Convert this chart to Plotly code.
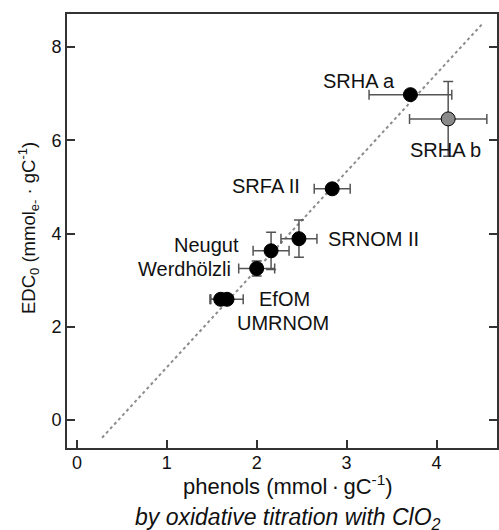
import plotly.graph_objects as go

# ---- data ----
names = ["SRHA a", "SRHA b", "SRFA II", "SRNOM II", "Neugut", "Werdhölzli", "EfOM", "UMRNOM"]
phenols = [3.71, 4.13, 2.84, 2.47, 2.16, 2.00, 1.67, 1.60]
phenols_err = [0.46, 0.43, 0.20, 0.20, 0.20, 0.20, 0.18, 0.12]
edc = [6.98, 6.46, 4.96, 3.89, 3.63, 3.25, 2.59, 2.59]
edc_err = [0.10, 0.80, 0.10, 0.40, 0.40, 0.16, 0.10, 0.10]
fill = ["black", "#8a8a8a", "black", "black", "black", "black", "black", "black"]

fit_x = [0.28, 4.52]
fit_y = [-0.38, 8.52]

x_ticks = [0, 1, 2, 3, 4]
y_ticks = [0, 2, 4, 6, 8]

# label placement (pixel offsets from the point)
lab_anchor = ["center", "center", "right", "left", "right", "right", "left", "center"]
lab_dx = [-51, -3, -30, 27, -30, -24, 30, 62]
lab_dy = [14, -31, 3, 0, 6, 0, 0, -24]

FONT = "Liberation Sans, Arial, sans-serif"
TXT = "#111111"

fig = go.Figure()
fig.add_trace(go.Scatter(
    x=fit_x, y=fit_y, mode="lines",
    line=dict(color="#8c8c8c", width=2, dash="dot"),
    hoverinfo="skip", showlegend=False))

fig.add_trace(go.Scatter(
    x=phenols, y=edc, mode="markers",
    marker=dict(size=14, color=fill, line=dict(color="black", width=1)),
    error_x=dict(type="data", array=phenols_err, color="#555555", thickness=1.5, width=5),
    error_y=dict(type="data", array=edc_err, color="#555555", thickness=1.5, width=5),
    showlegend=False))

for n, x, y, a, dx, dy in zip(names, phenols, edc, lab_anchor, lab_dx, lab_dy):
    fig.add_annotation(x=x, y=y, text=n, showarrow=False, xanchor=a, yanchor="middle",
                       xshift=dx, yshift=dy, font=dict(size=20, color=TXT, family=FONT))

# axis titles
fig.add_annotation(x=0.5, y=0, xref="paper", yref="paper", yshift=-37, xshift=6,
                   text="phenols (mmol\u2009·\u2009gC<sup>-1</sup>)", showarrow=False,
                   xanchor="center", yanchor="middle",
                   font=dict(size=22, color=TXT, family=FONT))
fig.add_annotation(x=0.5, y=0, xref="paper", yref="paper", yshift=-70, xshift=6,
                   text="<i>by oxidative titration with ClO<sub>2</sub></i>", showarrow=False,
                   xanchor="center", yanchor="middle",
                   font=dict(size=23, color=TXT, family=FONT))
fig.add_annotation(x=0, y=0.5, xref="paper", yref="paper", xshift=-39, yshift=3, textangle=-90,
                   text="EDC<sub>0</sub> (mmol<sub>e-</sub> · gC<sup>-1</sup>)", showarrow=False,
                   xanchor="center", yanchor="middle",
                   font=dict(size=18.5, color=TXT, family=FONT))

fig.update_layout(
    width=499, height=530,
    margin=dict(l=67, r=0, t=14, b=82),
    paper_bgcolor="white", plot_bgcolor="white",
    font=dict(family=FONT, size=18, color=TXT),
    xaxis=dict(range=[-0.11, 4.673], tickvals=x_ticks, ticks="inside", ticklen=8,
               tickwidth=1.5, tickcolor="#333", showline=True, linecolor="#333", linewidth=2,
               mirror=True, showgrid=False, zeroline=False, tickfont=dict(size=18),
               ticklabelstandoff=-3),
    yaxis=dict(range=[-0.60, 8.71], tickvals=y_ticks, ticks="inside", ticklen=8,
               tickwidth=1.5, tickcolor="#333", showline=True, linecolor="#333", linewidth=2,
               mirror="ticks", showgrid=False, zeroline=False, tickfont=dict(size=18),
               ticklabelstandoff=0),
)

fig.write_html("out.html")
